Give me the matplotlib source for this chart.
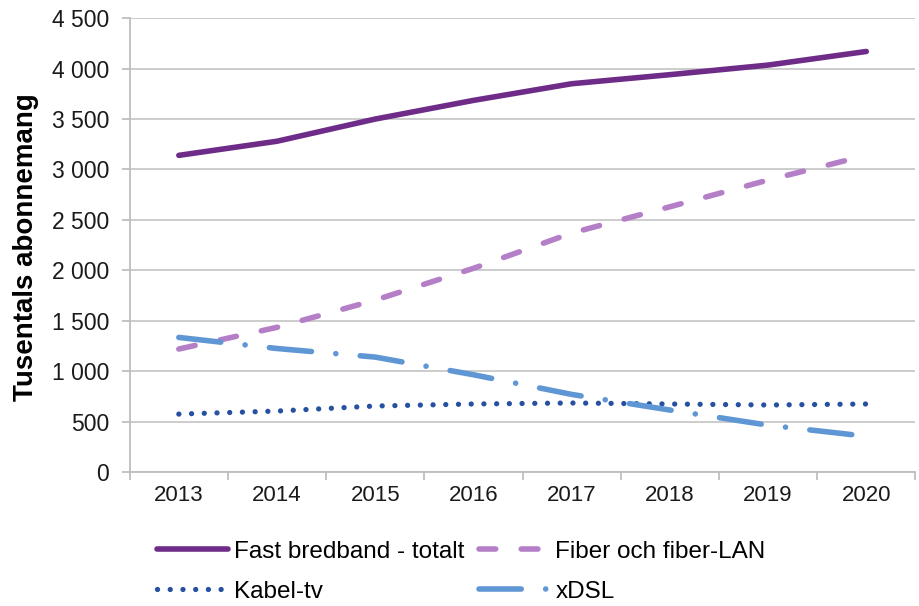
import matplotlib.pyplot as plt
import numpy as np

years = ['2013', '2014', '2015', '2016', '2017', '2018', '2019', '2020']

fast_totalt = [3140, 3280, 3500, 3685, 3850, 3940, 4035, 4170]
fiber_lan = [1220, 1435, 1705, 2020, 2370, 2630, 2895, 3140]
kabel_tv = [575, 605, 655, 675, 685, 675, 665, 675]
xdsl = [1335, 1225, 1140, 965, 770, 615, 465, 355]

y_ticks = [0, 500, 1000, 1500, 2000, 2500, 3000, 3500, 4000, 4500]

plt.rcParams['font.family'] = ['Liberation Sans', 'DejaVu Sans']

fig = plt.figure(figsize=(9.2, 6.06), dpi=100)
ax = fig.add_axes([0.141, 0.221, 0.854, 0.749])

x = np.arange(len(years))

l_fast, = ax.plot(x, fast_totalt, color='#6E2C88', lw=4.0, solid_capstyle='round',
                  label='Fast bredband - totalt')
l_fiber, = ax.plot(x, fiber_lan, color='#B57FC8', lw=4.0, dash_capstyle='round',
                   dashes=(3.0, 4.6), label='Fiber och fiber-LAN')
l_kabel, = ax.plot(x, kabel_tv, color='#2650A0', lw=3.8, dash_capstyle='round',
                   dashes=(0.01, 2.4), label='Kabel-tv')
l_xdsl, = ax.plot(x, xdsl, color='#5F96D4', lw=4.0, dash_capstyle='round',
                  dashes=(7.6, 4.4, 0.01, 4.4), label='xDSL')

ax.set_xlim(-0.5, len(years) - 0.5)
ax.set_ylim(0, 4500)
ax.set_yticks(y_ticks)
ax.set_yticklabels([f'{v:,}'.replace(',', ' ') for v in y_ticks])
ax.set_xticks(x)
ax.set_xticklabels(years)
ax.set_xticks(np.arange(-0.5, len(years)), minor=True)

ax.grid(axis='y', color='#C8C8C8', lw=1.3)
ax.set_axisbelow(True)
for s in ['top', 'right']:
    ax.spines[s].set_visible(False)
for s in ['left', 'bottom']:
    ax.spines[s].set_color('#BEBEBE')
    ax.spines[s].set_linewidth(1.3)

ax.tick_params(axis='x', which='major', length=0, pad=9, labelsize=16, labelcolor='#1a1a1a')
ax.tick_params(axis='x', which='minor', length=6, width=1.3, color='#BEBEBE')
ax.tick_params(axis='y', length=6, width=1.3, color='#BEBEBE', pad=9,
               labelsize=16.5, labelcolor='#1a1a1a')

ax.set_ylabel('Tusentals abonnemang', fontsize=20, fontweight='bold')
ax.yaxis.set_label_coords(-0.115, 0.495)

# column-wise fill -> order so rows read Fast/Fiber, Kabel/xDSL
fig.legend(handles=[l_fast, l_kabel, l_fiber, l_xdsl],
           loc='upper left', bbox_to_anchor=(0.171, 0.108), ncol=2, frameon=False,
           fontsize=17.5, handlelength=2.9, handletextpad=0.25, columnspacing=0.6,
           labelspacing=0.74, borderpad=0, borderaxespad=0)

fig.savefig('out.png', dpi=100)
